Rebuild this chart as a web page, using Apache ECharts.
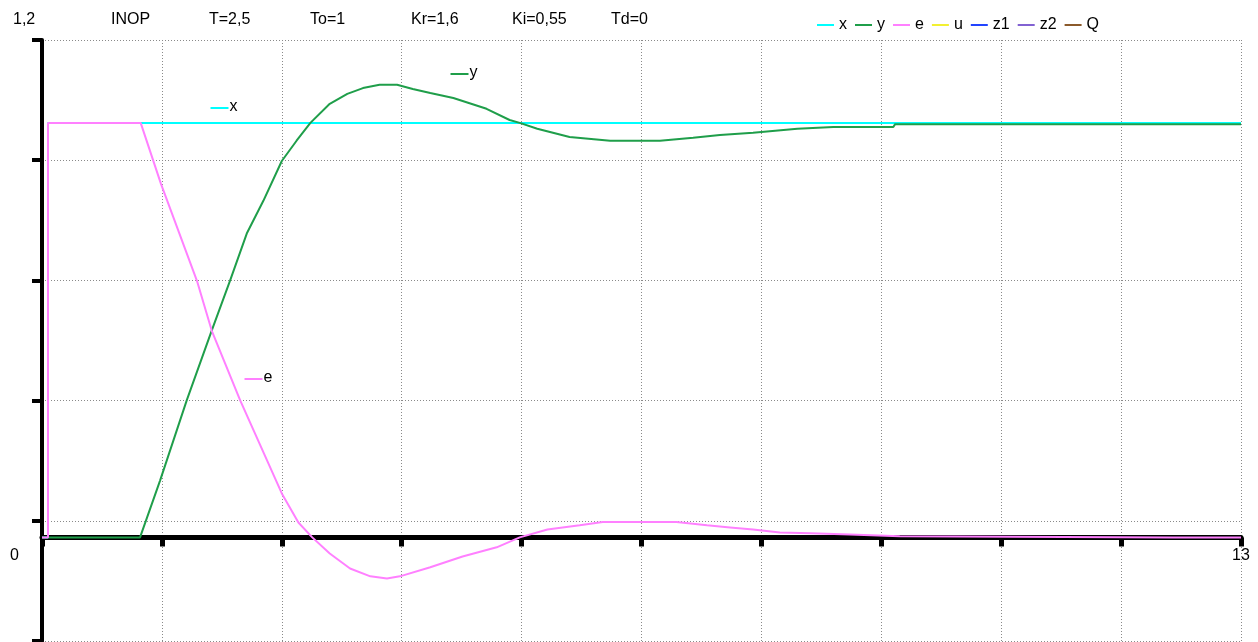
<!DOCTYPE html>
<html lang="de">
<head>
    <meta charset="UTF-8">
    <title>INOP</title>
    <script type="text/javascript" src="https://cdn.jsdelivr.net/npm/echarts@6/dist/echarts.min.js"></script>
    <style>
        html, body { margin: 0; padding: 0; background: #fff; }
        #container { width: 1258px; height: 642px; }
    </style>
</head>
<body>
<div id="container"></div>
<script>
    // Reihen und Farben
    var seriesNames = ['x', 'y', 'e', 'u', 'z1', 'z2', 'Q'];
    var seriesColors = ['#00ffff', '#1f9e4a', '#ff80ff', '#f2f032', '#2244ff', '#8262d2', '#8b5a2b'];
    var headerTexts = ['INOP', 'T=2,5', 'To=1', 'Kr=1,6', 'Ki=0,55', 'Td=0'];

    // Sollwert x
    var xTime = [0, 0.065, 0.065, 13];
    var xValue = [0, 0, 1, 1];

    // Regelgroesse y
    var yTime = [0, 1.063, 1.28, 1.57, 1.84, 2.04, 2.22, 2.40, 2.60, 2.76, 2.91, 3.12, 3.31, 3.48, 3.66, 3.85,
        4.02, 4.21, 4.46, 4.82, 5.07, 5.18, 5.37, 5.72, 6.16, 6.70, 7.06, 7.35, 7.71, 8.19, 8.58, 9.23, 9.25, 13];
    var yValue = [0, 0, 0.137, 0.331, 0.499, 0.620, 0.733, 0.812, 0.908, 0.957, 1.000, 1.046, 1.070, 1.084, 1.092, 1.092,
        1.082, 1.072, 1.060, 1.034, 1.007, 1.000, 0.986, 0.966, 0.957, 0.957, 0.964, 0.971, 0.976, 0.986, 0.990, 0.990, 0.997, 0.997];

    // Regelabweichung e
    var eTime = [0, 0.065, 0.065, 1.07, 1.29, 1.68, 1.84, 2.15, 2.60, 2.78, 2.93, 3.12, 3.34, 3.56, 3.74, 3.88,
        4.21, 4.56, 4.93, 5.18, 5.48, 5.83, 6.08, 6.88, 7.21, 7.46, 7.71, 8.00, 8.33, 8.76, 9.30, 12.26, 13];
    var eValue = [0, 0, 1, 1, 0.853, 0.619, 0.499, 0.330, 0.106, 0.036, 0, -0.039, -0.075, -0.094, -0.099, -0.094,
        -0.072, -0.046, -0.024, 0, 0.019, 0.029, 0.037, 0.037, 0.029, 0.024, 0.019, 0.012, 0.010, 0.007, 0.003, 0, 0];

    function zip(t, v) {
        var out = [];
        for (var i = 0; i < t.length; i++) {
            out.push([t[i], v[i]]);
        }
        return out;
    }

    var curveData = {
        x: zip(xTime, xValue),
        y: zip(yTime, yValue),
        e: zip(eTime, eValue)
    };

    var font = '"Liberation Sans", Arial, sans-serif';

    var series = [];
    for (var i = 0; i < seriesNames.length; i++) {
        series.push({
            name: seriesNames[i],
            type: 'line',
            xAxisIndex: 0,
            yAxisIndex: 0,
            showSymbol: false,
            data: curveData[seriesNames[i]] || [],
            lineStyle: { color: seriesColors[i], width: 2 },
            itemStyle: { color: seriesColors[i] },
            z: 3 + i
        });
    }

    var headerX = [111, 209, 310, 411, 512, 611];
    var graphics = [];
    for (var k = 0; k < headerTexts.length; k++) {
        graphics.push({
            type: 'text', left: headerX[k], top: 12,
            style: { text: headerTexts[k], font: '16px ' + font, fill: '#000' }
        });
    }
    // Achsenbeschriftungen
    graphics.push({ type: 'text', left: 13, top: 12, style: { text: '1,2', font: '16px ' + font, fill: '#000' } });
    graphics.push({ type: 'text', left: 10, top: 548, style: { text: '0', font: '16px ' + font, fill: '#000' } });
    graphics.push({ type: 'text', left: 1232, top: 548, style: { text: '13', font: '16px ' + font, fill: '#000' } });

    // Beschriftungen an den Kurven
    function curveTag(x, y, idx) {
        return {
            type: 'group', left: x, top: y - 9,
            children: [
                { type: 'line', shape: { x1: 0, y1: 9, x2: 18, y2: 9 }, style: { stroke: seriesColors[idx], lineWidth: 2 } },
                { type: 'text', x: 19, y: 0, style: { text: seriesNames[idx], font: '16px ' + font, fill: '#000' } }
            ]
        };
    }
    graphics.push(curveTag(208, 108, 0));
    graphics.push(curveTag(448, 74, 1));
    graphics.push(curveTag(242, 379, 2));

    var myChart = echarts.init(document.getElementById('container'));
    var option = {
        animation: false,
        backgroundColor: '#fff',
        legend: {
            left: 812, top: 12,
            icon: 'rect', itemWidth: 17, itemHeight: 2, itemGap: 8,
            textStyle: { fontSize: 16, fontFamily: font, color: '#000' },
            data: seriesNames
        },
        grid: { left: 42, right: 17, top: 40, bottom: 1, containLabel: false, outerBoundsMode: 'none' },
        xAxis: {
            type: 'value', min: 0, max: 13, interval: 1.3,
            axisLine: { onZero: true, onZeroAxisIndex: 0, lineStyle: { color: '#000', width: 5 } },
            axisTick: { show: true, length: 9, lineStyle: { color: '#000', width: 5 } },
            axisLabel: { show: false },
            splitLine: { show: true, lineStyle: { color: '#8a8a8a', width: 1, type: [1, 2] } }
        },
        yAxis: [
            {
                type: 'value', min: -0.25, max: 1.2,
                axisLine: { show: false }, axisTick: { show: false }, axisLabel: { show: false },
                splitLine: { show: false }
            },
            {
                type: 'value', min: 0, max: 5, interval: 1, position: 'left',
                axisLine: { show: true, lineStyle: { color: '#000', width: 4 } },
                axisTick: { show: true, length: 10, lineStyle: { color: '#000', width: 4 } },
                axisLabel: { show: false },
                splitLine: { show: true, lineStyle: { color: '#8a8a8a', width: 1, type: [1, 2] } }
            }
        ],
        graphic: graphics,
        series: series
    };
    myChart.setOption(option);
</script>
</body>
</html>
